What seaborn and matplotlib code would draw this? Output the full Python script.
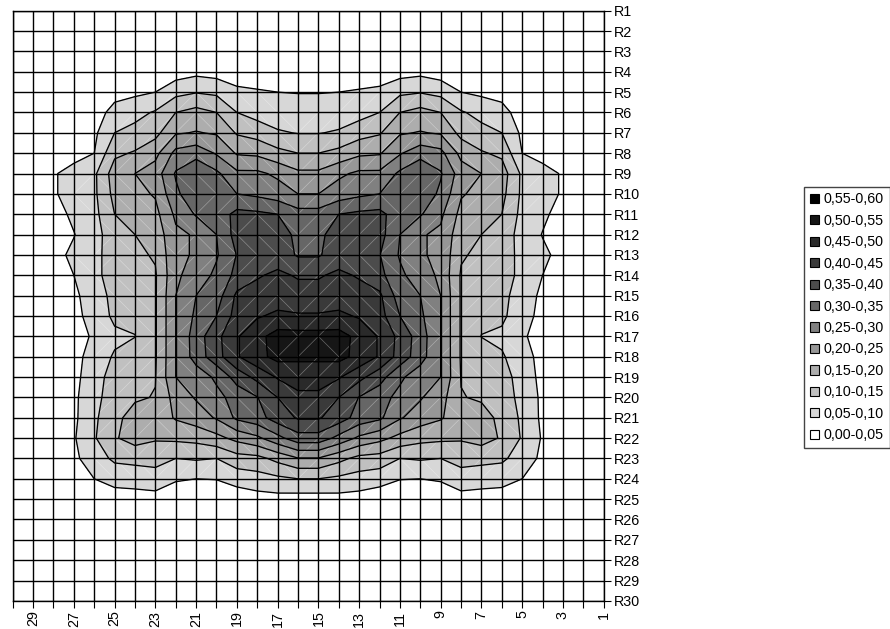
import numpy as np
import matplotlib
matplotlib.use("Agg")
import matplotlib.pyplot as plt
from matplotlib.patches import Patch
import seaborn as sns

# values, column 30 (left) to column 1 (right)
R1 = [0] * 30
R2 = [0] * 30
R3 = [0] * 30
R4 = [0, 0, 0, 0, .005, .015, .02, .02, .025, .037, .03, .025, .02, .015, .01,
      .01, .015, .02, .025, .03, .037, .025, .02, .02, .015, .005, 0, 0, 0, 0]
R5 = [0, 0, 0, .005, .02, .035, .04, .05, .085, .097, .09, .06, .055, .05, .048,
      .048, .05, .055, .06, .09, .097, .085, .05, .04, .035, .02, .005, 0, 0, 0]
R6 = [0, 0, .005, .015, .03, .065, .085, .105, .15, .167, .15, .10, .08, .075, .075,
      .075, .075, .08, .10, .15, .167, .15, .105, .085, .065, .03, .015, .005, 0, 0]
R7 = [0, 0, .01, .025, .04, .10, .115, .135, .195, .203, .195, .145, .13, .105, .098,
      .098, .105, .13, .145, .195, .203, .195, .135, .115, .10, .04, .025, .01, 0, 0]
R8 = [0, .005, .02, .035, .05, .14, .155, .185, .265, .281, .245, .195, .19, .165, .15,
      .15, .165, .19, .195, .245, .281, .265, .185, .155, .14, .05, .035, .02, .005, 0]
R9 = [0, .01, .046, .065, .09, .175, .20, .225, .305, .344, .31, .26, .26, .24, .21,
      .21, .24, .26, .26, .31, .344, .305, .225, .20, .175, .09, .065, .046, .01, 0]
R10 = [0, .01, .046, .065, .09, .165, .185, .205, .29, .335, .32, .30, .29, .275, .25,
       .25, .275, .29, .30, .32, .335, .29, .205, .185, .165, .09, .065, .046, .01, 0]
R11 = [0, .01, .03, .06, .085, .15, .165, .185, .26, .305, .32, .365, .36, .35, .32,
       .32, .35, .36, .365, .32, .305, .26, .185, .165, .15, .085, .06, .03, .01, 0]
R12 = [0, .005, .025, .048, .08, .13, .15, .17, .24, .255, .30, .37, .375, .37, .34,
       .34, .37, .375, .37, .30, .255, .24, .17, .15, .13, .08, .048, .025, .005, 0]
R13 = [0, .005, .035, .06, .085, .125, .14, .155, .24, .255, .295, .352, .375, .375, .345,
       .345, .375, .375, .352, .295, .255, .24, .155, .14, .125, .085, .06, .035, .005, 0]
R14 = [0, .005, .025, .05, .085, .125, .13, .145, .24, .275, .31, .365, .395, .41, .395,
       .395, .41, .395, .365, .31, .275, .24, .145, .13, .125, .085, .05, .025, .005, 0]
R15 = [0, 0, .02, .04, .075, .115, .125, .145, .25, .30, .325, .41, .42, .425, .42,
       .42, .425, .42, .41, .325, .30, .25, .145, .125, .115, .075, .04, .02, 0, 0]
R16 = [0, 0, .015, .035, .07, .11, .11, .145, .25, .31, .35, .42, .445, .46, .455,
       .455, .46, .445, .42, .35, .31, .25, .145, .11, .11, .07, .035, .015, 0, 0]
R17 = [0, 0, .01, .02, .06, .09, .099, .145, .25, .325, .385, .445, .485, .52, .519,
       .519, .52, .485, .445, .385, .325, .25, .145, .099, .09, .06, .02, .01, 0, 0]
R18 = [0, 0, .01, .03, .075, .105, .12, .145, .25, .322, .38, .445, .485, .515, .51,
       .51, .515, .485, .445, .38, .322, .25, .145, .12, .105, .075, .03, .01, 0, 0]
R19 = [0, 0, .01, .035, .08, .12, .135, .148, .25, .27, .31, .37, .415, .455, .47,
       .47, .455, .415, .37, .31, .27, .25, .148, .135, .12, .08, .035, .01, 0, 0]
R20 = [0, 0, .015, .04, .085, .125, .145, .152, .22, .255, .285, .32, .348, .40, .44,
       .44, .40, .348, .32, .285, .255, .22, .152, .145, .125, .085, .04, .015, 0, 0]
R21 = [0, 0, .015, .04, .09, .14, .165, .17, .205, .225, .255, .31, .33, .375, .405,
       .405, .375, .33, .31, .255, .225, .205, .17, .165, .14, .09, .04, .015, 0, 0]
R22 = [0, 0, .015, .045, .095, .145, .17, .155, .16, .165, .185, .215, .24, .285, .33,
       .33, .285, .24, .215, .185, .165, .16, .155, .17, .145, .095, .045, .015, 0, 0]
R23 = [0, 0, .015, .04, .075, .11, .115, .12, .10, .105, .10, .13, .135, .165, .197,
       .197, .165, .135, .13, .10, .105, .10, .12, .115, .11, .075, .04, .015, 0, 0]
R24 = [0, 0, .005, .02, .05, .065, .07, .075, .055, .05, .052, .07, .08, .09, .10,
       .10, .09, .08, .07, .052, .05, .055, .075, .07, .065, .05, .02, .005, 0, 0]
R25 = [0, 0, 0, .01, .02, .03, .03, .033, .02, .01, .01, .02, .03, .033, .029,
       .029, .033, .03, .02, .01, .01, .02, .033, .03, .03, .02, .01, 0, 0, 0]
R26 = [0] * 30
R27 = [0] * 30
R28 = [0] * 30
R29 = [0] * 30
R30 = [0] * 30

rows = [R1, R2, R3, R4, R5, R6, R7, R8, R9, R10, R11, R12, R13, R14, R15,
        R16, R17, R18, R19, R20, R21, R22, R23, R24, R25, R26, R27, R28, R29, R30]
row_labels = [f"R{i}" for i in range(1, 31)]
columns = list(range(30, 0, -1))

levels = [0.0, .05, .10, .15, .20, .25, .30, .35, .40, .45, .50, .55, .60]
band_labels = ["0,00-0,05", "0,05-0,10", "0,10-0,15", "0,15-0,20", "0,20-0,25", "0,25-0,30",
               "0,30-0,35", "0,35-0,40", "0,40-0,45", "0,45-0,50", "0,50-0,55", "0,55-0,60"]
band_colors = ["#ffffff", "#d7d7d7", "#c0c0c0", "#adadad", "#979797", "#808080",
               "#666666", "#4c4c4c", "#3a3a3a", "#2a2a2a", "#161616", "#000000"]

sns.set_theme(style="white")
plt.rcParams["font.family"] = ["Liberation Sans", "DejaVu Sans"]

W, H = 890, 629
fig = plt.figure(figsize=(W / 100, H / 100), dpi=100)
ax = fig.add_axes([12.7 / W, 1 - 600.9 / H, 591 / W, 590.2 / H])

Z = np.array(rows, dtype=float)
X = np.array(columns)
Y = np.arange(1, 31)

ax.contourf(X, Y, Z, levels=levels, colors=band_colors, zorder=1)
ax.contour(X, Y, Z, levels=levels[1:-2], colors="black", linewidths=0.95, zorder=3)

# faint seams of the surface triangles, along the flatter diagonal of each cell
for i in range(29):
    for j in range(29):
        a, b, c, d = Z[i, j], Z[i, j + 1], Z[i + 1, j], Z[i + 1, j + 1]
        if min(a, b, c, d) < .05:
            continue
        if abs(a - d) < abs(b - c):
            ax.plot([X[j], X[j + 1]], [Y[i], Y[i + 1]], color="white", lw=0.5, alpha=0.35, zorder=2)
        else:
            ax.plot([X[j + 1], X[j]], [Y[i], Y[i + 1]], color="white", lw=0.5, alpha=0.35, zorder=2)

ax.set_xlim(30, 1)
ax.set_ylim(30, 1)
ax.set_xticks(columns)
ax.set_xticklabels([str(c) if c % 2 else "" for c in columns], rotation=90, fontsize=10.3)
ax.set_yticks(Y)
ax.set_yticklabels(row_labels, fontsize=10.3)
ax.yaxis.tick_right()
ax.tick_params(axis="both", length=5, width=0.8, color="black", pad=2, labelcolor="black",
               bottom=True, right=True, left=False, top=False)
ax.grid(True, color="black", linewidth=1.0, zorder=4)
ax.set_axisbelow(False)
for spine in ax.spines.values():
    spine.set_color("black")
    spine.set_linewidth(1.0)
sns.despine(ax=ax, top=False, right=False, left=False, bottom=False)

handles = [Patch(facecolor=c, edgecolor="black", linewidth=0.8, label=l)
           for c, l in zip(band_colors[::-1], band_labels[::-1])]
fig.legend(handles=handles, loc="upper left", bbox_to_anchor=(804 / W, 1 - 186.7 / H),
           borderaxespad=0, fontsize=10.3, frameon=True, fancybox=False, framealpha=1,
           edgecolor="#444444", labelspacing=0.52, handlelength=0.62, handleheight=0.62,
           handletextpad=0.35, borderpad=0.4, labelcolor="black")

fig.savefig("out.png", dpi=100)
